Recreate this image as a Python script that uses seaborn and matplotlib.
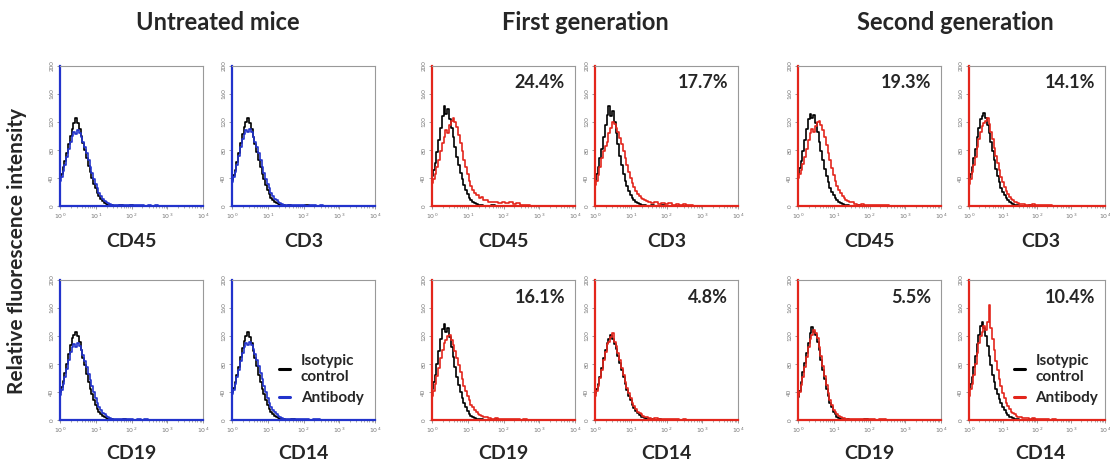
"""
Flow cytometry overlays: isotypic control vs antibody staining for
CD45 / CD3 / CD19 / CD14 in untreated mice and two generations.
"""

import numpy as np
import pandas as pd
import matplotlib
matplotlib.use("Agg")
import matplotlib.pyplot as plt
import seaborn as sns

# ── Data ──────────────────────────────────────────────────────────────────────

GROUPS = ["Untreated mice", "First generation", "Second generation"]
MARKERS = [["CD45", "CD3"], ["CD19", "CD14"]]

# histogram bin centres (log10 of fluorescence channel): fine bins up to 10^1.5,
# coarser bins in the tail
BIN_EXP = np.concatenate([np.arange(0, 1.51, 0.05), np.arange(1.6, 2.95, 0.1)])

# counts per bin (31 fine bins + 14 tail bins)
UNT_CD45_ISO = [41, 46, 55, 64, 75, 88, 100, 110, 118, 125, 118, 110, 100, 90, 80, 68, 57, 48, 40, 32,
                25, 19, 14, 10, 7, 4, 3, 2, 1, 1, 0,
                0, 1, 0, 0, 1, 0, 0, 0, 0, 0, 0, 0, 0, 0]
UNT_CD45_AB = [36, 42, 50, 59, 70, 82, 92, 100, 106, 103, 108, 104, 98, 92, 84, 75, 65, 56, 47, 39,
               31, 25, 19, 14, 10, 7, 5, 4, 3, 2, 2,
               1, 2, 1, 1, 2, 1, 1, 2, 0, 1, 0, 1, 0, 0]
UNT_CD3_ISO = [37, 44, 52, 63, 76, 90, 103, 113, 120, 126, 119, 110, 99, 88, 77, 66, 55, 46, 38, 30,
               23, 17, 12, 9, 6, 4, 3, 2, 1, 1, 0,
               1, 0, 0, 0, 0, 1, 0, 0, 0, 0, 0, 0, 0, 0]
UNT_CD3_AB = [34, 41, 49, 59, 71, 84, 95, 103, 109, 105, 110, 105, 99, 92, 84, 75, 65, 56, 47, 39,
              31, 25, 19, 14, 10, 8, 6, 4, 3, 2, 2,
              2, 1, 1, 2, 1, 0, 1, 1, 0, 1, 0, 0, 0, 0]
UNT_CD19_ISO = [40, 47, 56, 67, 80, 94, 107, 117, 122, 126, 120, 111, 100, 89, 78, 66, 55, 45, 37, 29,
                22, 16, 12, 8, 6, 4, 3, 2, 1, 1, 0,
                0, 0, 1, 0, 0, 0, 0, 0, 0, 0, 0, 0, 0, 0]
UNT_CD19_AB = [36, 43, 51, 61, 73, 86, 97, 104, 108, 105, 110, 106, 100, 93, 85, 76, 66, 57, 48, 40,
               32, 25, 19, 14, 10, 8, 6, 4, 3, 2, 2,
               1, 2, 1, 1, 1, 0, 1, 0, 1, 0, 0, 0, 0, 0]
UNT_CD14_ISO = [40, 46, 54, 64, 76, 90, 103, 113, 120, 126, 119, 110, 99, 88, 77, 65, 54, 45, 37, 29,
                22, 16, 12, 8, 6, 4, 3, 2, 1, 1, 0,
                0, 1, 0, 0, 0, 0, 0, 0, 0, 0, 0, 0, 0, 0]
UNT_CD14_AB = [37, 43, 51, 61, 72, 85, 96, 104, 110, 107, 112, 107, 101, 94, 86, 77, 67, 58, 49, 40,
               32, 25, 19, 14, 11, 8, 6, 4, 3, 2, 2,
               1, 1, 2, 1, 1, 1, 0, 1, 1, 0, 0, 0, 0, 0]

FG_CD45_ISO = [43, 52, 62, 77, 94, 112, 128, 143, 132, 138, 124, 112, 98, 84, 70, 58, 47, 38, 30, 23,
               17, 12, 8, 6, 4, 3, 2, 1, 1, 0, 0,
               0, 1, 0, 0, 0, 0, 0, 0, 0, 0, 0, 0, 0, 0]
FG_CD45_AB = [33, 38, 46, 55, 66, 78, 90, 98, 108, 104, 116, 122, 126, 120, 113, 102, 90, 78, 66, 55,
              45, 36, 29, 23, 19, 16, 16, 12, 13, 9, 8,
              6, 5, 6, 4, 5, 4, 5, 3, 4, 2, 1, 1, 0, 0]
FG_CD3_ISO = [36, 46, 56, 68, 82, 98, 116, 130, 143, 128, 136, 120, 104, 88, 72, 58, 46, 36, 28, 21,
              15, 11, 8, 5, 4, 3, 2, 1, 1, 0, 0,
              1, 0, 0, 1, 0, 0, 0, 0, 0, 0, 0, 0, 0, 0]
FG_CD3_AB = [30, 36, 44, 56, 68, 78, 86, 92, 104, 112, 120, 117, 112, 105, 97, 88, 78, 68, 58, 49,
             40, 33, 27, 22, 17, 14, 12, 10, 8, 7, 6,
             4, 5, 3, 4, 3, 4, 2, 3, 2, 3, 1, 1, 0, 0]
FG_CD19_ISO = [45, 54, 64, 80, 98, 116, 130, 137, 126, 132, 118, 104, 90, 76, 62, 50, 40, 31, 24, 18,
               13, 9, 6, 4, 3, 2, 1, 1, 1, 0, 0,
               0, 0, 1, 0, 0, 0, 0, 0, 0, 0, 0, 0, 0, 0]
FG_CD19_AB = [35, 42, 52, 63, 75, 88, 100, 110, 114, 120, 122, 115, 107, 98, 88, 78, 68, 58, 49, 41,
              34, 28, 22, 18, 14, 11, 9, 7, 6, 5, 4,
              3, 2, 3, 2, 2, 1, 2, 1, 1, 0, 1, 0, 0, 0]
FG_CD14_ISO = [38, 44, 52, 62, 74, 88, 100, 110, 116, 121, 116, 109, 101, 92, 82, 72, 62, 52, 43, 35,
               28, 22, 17, 13, 10, 7, 5, 4, 3, 2, 1,
               1, 0, 1, 0, 0, 0, 0, 0, 0, 0, 0, 0, 0, 0]
FG_CD14_AB = [34, 42, 49, 60, 72, 86, 97, 108, 112, 118, 125, 112, 106, 96, 86, 75, 65, 55, 46, 38,
              31, 25, 20, 16, 12, 10, 8, 6, 5, 4, 3,
              2, 3, 2, 2, 1, 2, 1, 1, 0, 1, 0, 0, 0, 0]

SG_CD45_ISO = [45, 54, 64, 78, 94, 110, 124, 132, 126, 130, 118, 105, 92, 78, 65, 53, 43, 34, 26, 20,
               15, 11, 8, 5, 4, 3, 2, 1, 1, 0, 0,
               0, 1, 0, 0, 0, 0, 0, 0, 0, 0, 0, 0, 0, 0]
SG_CD45_AB = [40, 46, 52, 60, 70, 82, 94, 104, 110, 106, 114, 120, 122, 116, 108, 98, 87, 76, 65, 54,
              44, 36, 29, 23, 18, 14, 11, 9, 7, 6, 5,
              3, 2, 3, 2, 2, 1, 2, 1, 1, 1, 0, 0, 0, 0]
SG_CD3_ISO = [38, 46, 56, 68, 82, 98, 112, 124, 128, 133, 126, 116, 104, 91, 78, 65, 53, 43, 34, 26,
              20, 15, 11, 8, 5, 4, 3, 2, 1, 1, 0,
              0, 0, 1, 0, 0, 0, 0, 0, 0, 0, 0, 0, 0, 0]
SG_CD3_AB = [32, 39, 48, 58, 70, 84, 96, 106, 114, 118, 122, 125, 117, 106, 95, 83, 72, 61, 51, 42,
             34, 27, 21, 17, 13, 10, 8, 6, 5, 4, 3,
             3, 2, 2, 3, 2, 1, 2, 1, 1, 0, 0, 0, 0, 0]
SG_CD19_ISO = [33, 42, 55, 68, 82, 96, 110, 124, 133, 126, 122, 112, 100, 86, 72, 58, 45, 34, 25, 18,
               12, 8, 5, 3, 2, 1, 1, 0, 1, 0, 0,
               0, 0, 0, 1, 0, 0, 0, 0, 0, 0, 0, 0, 0, 0]
SG_CD19_AB = [35, 40, 50, 62, 76, 90, 104, 116, 122, 128, 124, 117, 105, 91, 77, 63, 50, 39, 29, 21,
              15, 11, 8, 6, 4, 3, 3, 2, 2, 1, 1,
              1, 2, 1, 1, 1, 1, 0, 1, 1, 0, 0, 0, 0, 0]
SG_CD14_ISO = [45, 52, 62, 76, 92, 108, 122, 134, 140, 132, 120, 106, 92, 78, 65, 54, 45, 37, 30, 24,
               18, 14, 10, 7, 5, 4, 3, 2, 1, 1, 0,
               0, 0, 0, 1, 0, 0, 0, 0, 0, 0, 0, 0, 0, 0]
SG_CD14_AB = [35, 44, 52, 64, 80, 96, 110, 120, 126, 134, 128, 140, 164, 132, 116, 100, 85, 71, 59, 48,
              39, 31, 25, 20, 16, 12, 10, 8, 6, 5, 4,
              3, 3, 2, 3, 2, 2, 1, 1, 0, 1, 0, 0, 0, 0]

COUNTS = [
    {"CD45": (UNT_CD45_ISO, UNT_CD45_AB), "CD3": (UNT_CD3_ISO, UNT_CD3_AB),
     "CD19": (UNT_CD19_ISO, UNT_CD19_AB), "CD14": (UNT_CD14_ISO, UNT_CD14_AB)},
    {"CD45": (FG_CD45_ISO, FG_CD45_AB), "CD3": (FG_CD3_ISO, FG_CD3_AB),
     "CD19": (FG_CD19_ISO, FG_CD19_AB), "CD14": (FG_CD14_ISO, FG_CD14_AB)},
    {"CD45": (SG_CD45_ISO, SG_CD45_AB), "CD3": (SG_CD3_ISO, SG_CD3_AB),
     "CD19": (SG_CD19_ISO, SG_CD19_AB), "CD14": (SG_CD14_ISO, SG_CD14_AB)},
]

# % positive cells shown in the treated groups
PCT_FIRST = {"CD45": "24.4%", "CD3": "17.7%", "CD19": "16.1%", "CD14": "4.8%"}
PCT_SECOND = {"CD45": "19.3%", "CD3": "14.1%", "CD19": "5.5%", "CD14": "10.4%"}
PERCENTS = [None, PCT_FIRST, PCT_SECOND]

Y_TICKS = [0, 40, 80, 120, 160, 200]
X_TICKS = [1, 10, 100, 1000, 10000]
X_TICK_LABELS = ["$10^0$", "$10^1$", "$10^2$", "$10^3$", "$10^4$"]

# ── Style ─────────────────────────────────────────────────────────────────────

BLUE = "#2233cc"
RED = "#e3261c"
GROUP_COLORS = [BLUE, RED, RED]

W, H = 1110, 465
COL_LEFT = [60, 232, 432, 595, 798, 969]        # px, left edge of each panel
COL_W = [143, 143, 143, 143, 143, 136]          # last one runs to the edge
ROW_TOP = [66, 280]                             # px, top edge of each row
PANEL_H = 140
LABEL_Y = [241.5, 453]                          # px, centre of marker names

sns.set_style("white")
plt.rcParams["font.family"] = ["Lato", "DejaVu Sans"]


def fig_rect(left_px, top_px, w_px, h_px):
    return [left_px / W, (H - top_px - h_px) / H, w_px / W, h_px / H]


def fx(px):
    return px / W


def fy(px):
    return (H - px) / H


fig = plt.figure(figsize=(W / 100, H / 100), dpi=100)

for g, group in enumerate(GROUPS):
    color = GROUP_COLORS[g]
    c0 = 2 * g
    # group title centred above its two columns
    title_x = (COL_LEFT[c0] + COL_LEFT[c0 + 1] + 143) / 2
    fig.text(fx(title_x), fy(22), group,
             ha="center", va="center", fontsize=17, fontweight="bold")

    for r, row in enumerate(MARKERS):
        for c, marker in enumerate(row):
            lx, ty, pw = COL_LEFT[c0 + c], ROW_TOP[r], COL_W[c0 + c]
            ax = fig.add_axes(fig_rect(lx, ty, pw, PANEL_H))

            iso, ab = COUNTS[g][marker]
            df = pd.DataFrame({
                "intensity": np.concatenate([10 ** BIN_EXP, 10 ** BIN_EXP]),
                "count": iso + ab,
                "stain": ["Isotypic"] * len(iso) + ["Antibody"] * len(ab),
            })
            sns.lineplot(data=df, x="intensity", y="count", hue="stain",
                         hue_order=["Isotypic", "Antibody"],
                         palette={"Isotypic": "black", "Antibody": color},
                         estimator=None, errorbar=None, sort=False,
                         drawstyle="steps-mid", linewidth=1.2,
                         legend=False, ax=ax)

            ax.set_xscale("log")
            ax.set_xlim(1, 1e4)
            ax.set_ylim(0, 200)
            ax.set_yticks(Y_TICKS)
            ax.set_yticklabels([str(t) for t in Y_TICKS])
            ax.set_xticks(X_TICKS)
            ax.set_xticklabels(X_TICK_LABELS)
            ax.set_xlabel("")
            ax.set_ylabel("")
            ax.tick_params(axis="both", which="major", bottom=True, left=True,
                           length=2.5, width=0.6, color="#888888",
                           labelsize=4.5, labelcolor="#777777", pad=1.5)
            ax.tick_params(axis="x", which="minor", bottom=True,
                           length=1.5, width=0.5, color="#888888")
            plt.setp(ax.get_yticklabels(), rotation=90, va="center")

            for side in ["top", "right"]:
                ax.spines[side].set_color("#999999")
                ax.spines[side].set_linewidth(0.8)
            for side in ["left", "bottom"]:
                ax.spines[side].set_color(color)
                ax.spines[side].set_linewidth(1.6)

            # marker name under the panel
            fig.text(fx(lx + 143 / 2), fy(LABEL_Y[r]), marker,
                     ha="center", va="center", fontsize=14, fontweight="bold")

            if PERCENTS[g] is not None:
                ax.text(1 - 10 / pw, 1 - 17 / PANEL_H, PERCENTS[g][marker],
                        transform=ax.transAxes, ha="right", va="center",
                        fontsize=13, fontweight="bold")

            if marker == "CD14" and g != 1:
                leg = ax.legend(ax.get_lines()[:2], ["Isotypic\ncontrol", "Antibody"],
                                loc="center left", bbox_to_anchor=(0.33, 0.29),
                                frameon=False, borderpad=0, borderaxespad=0,
                                handlelength=0.7, handletextpad=0.7,
                                labelspacing=0.45,
                                prop={"weight": "bold", "size": 11})
                for h in leg.legend_handles:
                    h.set_linewidth(2.2)

fig.text(fx(17), fy(251), "Relative fluorescence intensity", rotation=90,
         ha="center", va="center", fontsize=15, fontweight="bold")

fig.savefig("out.png", dpi=100)
